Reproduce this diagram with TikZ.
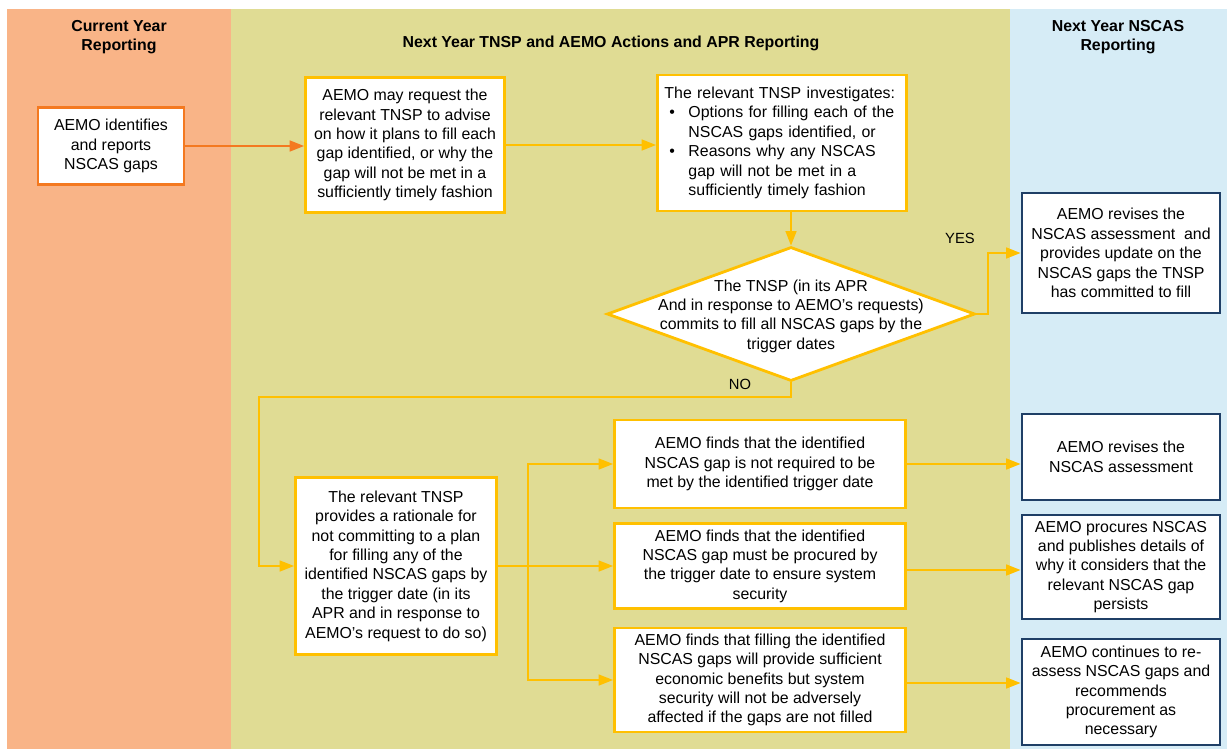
\documentclass[tikz,border=0pt]{standalone}
\usepackage{fontspec}
\setmainfont{Liberation Sans}
\usetikzlibrary{arrows.meta,shapes.geometric}
\definecolor{lanecur}{HTML}{F9B487}
\definecolor{lanenext}{HTML}{E0DC94}
\definecolor{lanenscas}{HTML}{D6ECF6}
\definecolor{aemoorange}{HTML}{F47920}
\definecolor{tnspyellow}{HTML}{FFC000}
\definecolor{nscasblue}{HTML}{1F3F66}
\newcommand{\boxfont}{\fontsize{11.3}{13.8}\selectfont}
\begin{document}
\begin{tikzpicture}[x=0.025cm, y=-0.025cm,
	box/.style={draw, fill=white, line width=2pt, align=center, inner sep=2pt, font=\boxfont},
	obox/.style={box, draw=aemoorange},
	ybox/.style={box, draw=tnspyellow},
	nbox/.style={box, draw=nscasblue},
	decision/.style={diamond, draw=tnspyellow, fill=white, line width=2pt, inner sep=0pt, minimum width=9.2cm, minimum height=3.35cm},
	oarr/.style={draw=aemoorange, line width=1.4pt, -{Triangle[length=0.36cm,width=0.27cm]}},
	yarr/.style={oarr, draw=tnspyellow},
	lanehead/.style={font=\boxfont\bfseries, align=center}]
	\useasboundingbox (0,0) rectangle (1227,749);
	% swim lanes
	\fill [lanecur] (7,9) rectangle (231,749);
	\fill [lanenext] (231,9) rectangle (1010,749);
	\fill [lanenscas] (1010,9) rectangle (1227,749);
	\node [lanehead] (hcur) at (119,37) {Current Year\\Reporting};
	\node [lanehead] (hnext) at (611,43) {Next Year TNSP and AEMO Actions and APR Reporting};
	\node [lanehead] (hnscas) at (1118,37) {Next Year NSCAS\\Reporting};
	% boxes
	\node [obox, minimum width=3.65cm, minimum height=1.925cm] (a) at (111,146) {AEMO identifies\\and reports\\NSCAS gaps};
	\node [ybox, minimum width=4.975cm, minimum height=3.375cm] (b) at (405,145) {AEMO may request the\\relevant TNSP to advise\\on how it plans to fill each\\gap identified, or why the\\gap will not be met in a\\sufficiently timely fashion};
	\node [ybox, align=left, inner xsep=0.175cm, text width=5.875cm, minimum height=3.4cm] (c) at (782,143) {The relevant TNSP investigates:\\
		\hspace*{0.12cm}\makebox[0.48cm][l]{\textbullet}Options for filling each of the\\
		\hspace*{0.6cm}NSCAS gaps identified, or\\
		\hspace*{0.12cm}\makebox[0.48cm][l]{\textbullet}Reasons why any NSCAS\\
		\hspace*{0.6cm}gap will not be met in a\\
		\hspace*{0.6cm}sufficiently timely fashion};
	\node [decision] (dec) at (791,314) {};
	\node [font=\boxfont, align=center] (dectext) at (791,316) {The TNSP (in its APR\\And in response to AEMO’s requests)\\commits to fill all NSCAS gaps by the\\trigger dates};
	\node [nbox, minimum width=4.95cm, minimum height=3cm] (d) at (1121,253) {AEMO revises the\\NSCAS assessment\ \ and\\provides update on the\\NSCAS gaps the TNSP\\has committed to fill};
	\node [ybox, minimum width=5.025cm, minimum height=4.425cm] (e) at (396,566) {The relevant TNSP\\provides a rationale for\\not committing to a plan\\for filling any of the\\identified NSCAS gaps by\\the trigger date (in its\\APR and in response to\\AEMO’s request to do so)};
	\node [ybox, minimum width=7.275cm, minimum height=2.2cm] (f1) at (760,464) {AEMO finds that the identified\\NSCAS gap is not required to be\\met by the identified trigger date};
	\node [ybox, minimum width=7.275cm, minimum height=2.125cm] (f2) at (760,566) {AEMO finds that the identified\\NSCAS gap must be procured by\\the trigger date to ensure system\\security};
	\node [ybox, minimum width=7.275cm, minimum height=2.6cm] (f3) at (760,680) {AEMO finds that filling the identified\\NSCAS gaps will provide sufficient\\economic benefits but system\\security will not be adversely\\affected if the gaps are not filled};
	\node [nbox, minimum width=4.95cm, minimum height=2.15cm] (g1) at (1121,457) {AEMO revises the\\NSCAS assessment};
	\node [nbox, minimum width=4.95cm, minimum height=2.6cm] (g2) at (1121,567) {AEMO procures NSCAS\\and publishes details of\\why it considers that the\\relevant NSCAS gap\\persists};
	\node [nbox, minimum width=4.95cm, minimum height=2.65cm] (g3) at (1121,692) {AEMO continues to re-\\assess NSCAS gaps and\\recommends\\procurement as\\necessary};
	% connectors
	\coordinate (nojoin) at (259,397);
	\coordinate (split) at (528,566);
	\draw [oarr] (a.east) -- (a.east -| b.west);
	\draw [yarr] (b.east) -- (b.east -| c.west);
	\draw [yarr] (c.south -| dec.north) -- (dec.north);
	\draw [yarr] (dec.east) -- ++(12,0) |- (d.west);
	\draw [yarr] (dec.south) |- (nojoin) |- (e.west);
	\draw [yarr, -] (e.east) -- (split);
	\draw [yarr] (split) |- (f1.west);
	\draw [yarr] (split) -- (f2.west);
	\draw [yarr] (split) |- (f3.west);
	\draw [yarr] (f1.east) -- (f1.east -| g1.west);
	\draw [yarr] ([yshift=-0.1cm]f2.east) -- ([yshift=-0.1cm]f2.east -| g2.west);
	\draw [yarr] ([yshift=-0.075cm]f3.east) -- ([yshift=-0.075cm]f3.east -| g3.west);
	\node [font=\fontsize{10.5}{12}\selectfont] (yes) at (960,238) {YES};
	\node [font=\fontsize{10.5}{12}\selectfont] (no) at (740,384) {NO};
\end{tikzpicture}
\end{document}
